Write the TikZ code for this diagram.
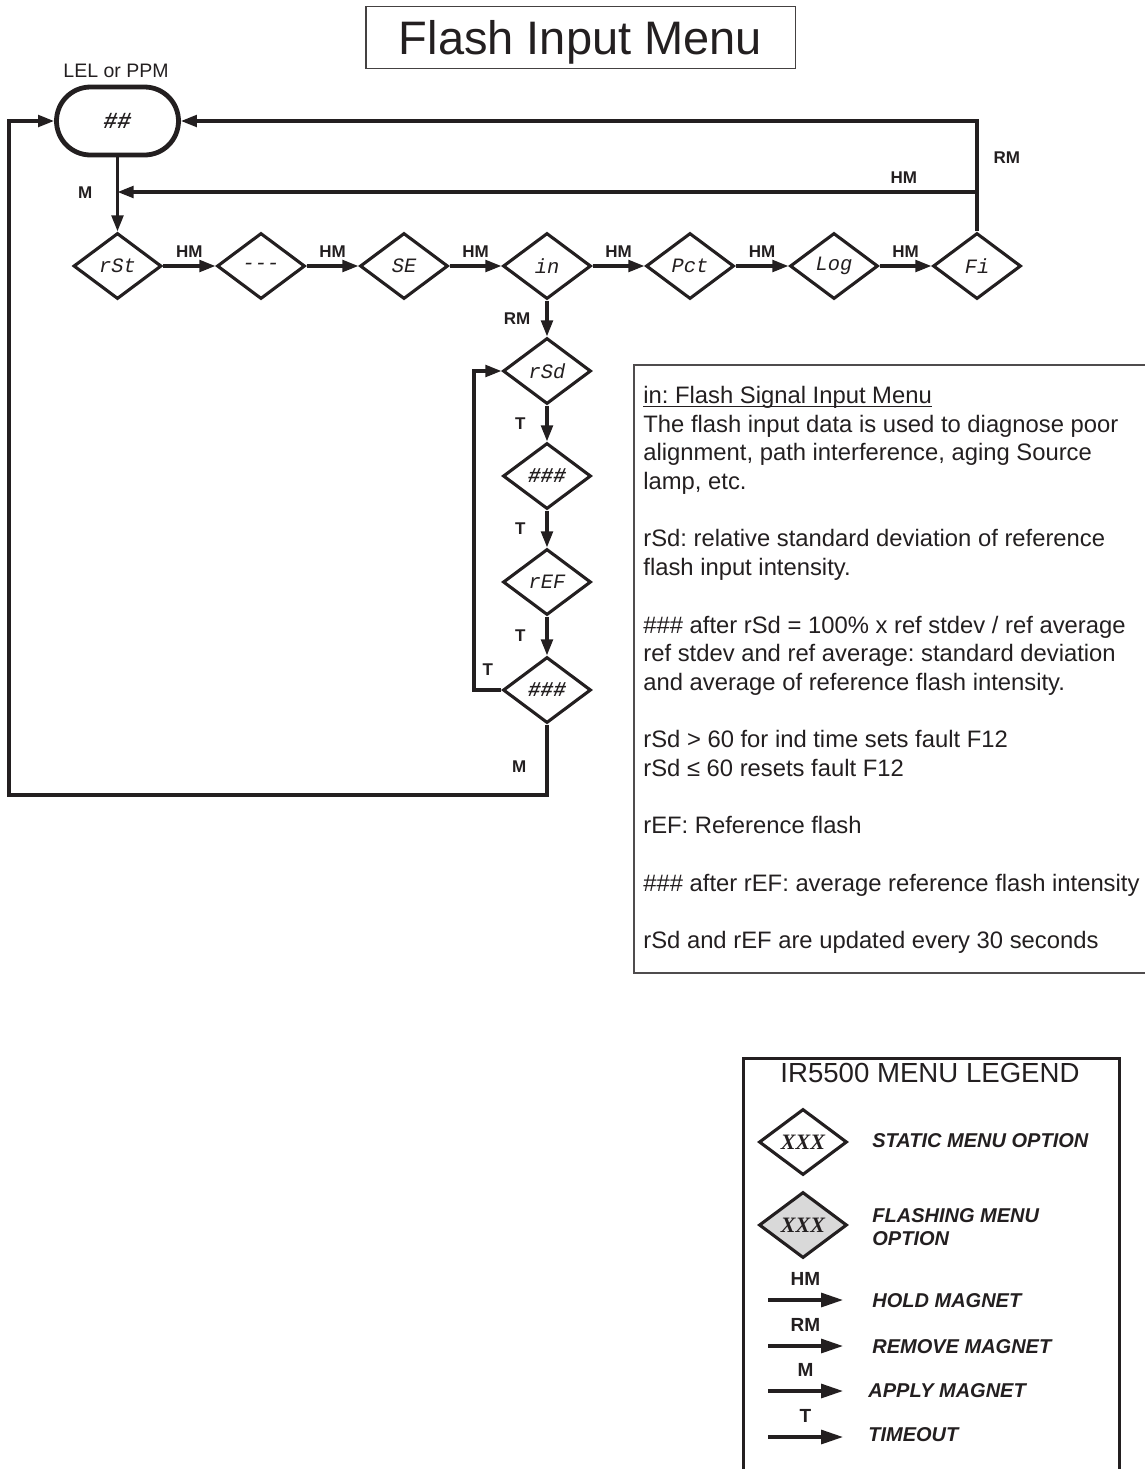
\documentclass[tikz,border=0pt]{standalone}
\usepackage{fontspec}
\setmainfont{Liberation Sans}
\newfontfamily\monofam{Liberation Mono}
\newfontfamily\seriffam{Liberation Serif}
\usetikzlibrary{shapes.geometric,arrows.meta}
\definecolor{ink}{HTML}{231F20}
\definecolor{flashgray}{HTML}{D9D9D9}
\begin{document}
\begin{tikzpicture}[x=0.5pt,y=-0.5pt,
  menu/.style={diamond, draw=ink, line width=1.55pt, minimum width=44pt, minimum height=33pt, inner sep=0pt, text=ink, font=\monofam\itshape\fontsize{10.2}{12}\selectfont},
  menubold/.style={menu, font=\monofam\bfseries\itshape\fontsize{10.5}{12}\selectfont},
  conn/.style={draw=ink, line width=1.6pt, -{Triangle[length=8pt,width=5.8pt]}},
  lbl/.style={font=\bfseries\fontsize{8.5}{10}\selectfont, text=ink, inner sep=1pt},
  lgconn/.style={draw=ink, line width=1.6pt, -{Triangle[length=11pt,width=7pt]}},
  lglbl/.style={font=\bfseries\fontsize{9.5}{11}\selectfont, text=ink, inner sep=1pt},
  lgtext/.style={font=\bfseries\itshape\fontsize{10}{11.5}\selectfont, text=ink, inner sep=0pt},
  xxx/.style={menu, font=\seriffam\bfseries\itshape\fontsize{11}{12}\selectfont},
]
\useasboundingbox (0,0) rectangle (1145,1469);

% title
\node[draw=ink!85, line width=0.75pt, minimum width=214.75pt, minimum height=31pt, inner sep=0pt,
      text height=16.8pt, text depth=0pt, font=\fontsize{23.5}{26}\selectfont, text=ink] (title) at (580.5,37.5) {Flash Input Menu};

% start
\node[font=\fontsize{9.75}{11}\selectfont, text=ink, anchor=base, inner sep=0pt] (unit) at (116,77) {LEL or PPM};
\node[draw=ink, line width=2.4pt, rounded corners=17pt, minimum width=61pt, minimum height=34pt, inner sep=0pt,
      text=ink, font=\monofam\bfseries\itshape\fontsize{11.5}{12}\selectfont] (start) at (117.5,121) {\#\#};

% row
\node[menu] (rSt) at (117.5,266) {rSt};
\node[menu] (dash) at (261,266) {-{}-{}-};
\node[menu] (SE) at (404,266) {SE};
\node[menu] (inM) at (547,266) {in};
\node[menu] (Pct) at (690,266) {Pct};
\node[menu] (Log) at (834,266) {Log};
\node[menu] (Fi) at (977,266) {Fi};

% column
\node[menu] (rSd) at (547,371) {rSd};
\node[menubold] (h1) at (547,476) {\#\#\#};
\node[menu] (rEF) at (547,582) {rEF};
\node[menubold] (h2) at (547,690) {\#\#\#};

% connectors
\draw[conn] (start) -- node[lbl, left=10.75pt, pos=0.47]{M} (rSt);
\draw[conn] (rSt) -- node[lbl, above=2.5pt]{HM} (dash);
\draw[conn] (dash) -- node[lbl, above=2.5pt]{HM} (SE);
\draw[conn] (SE) -- node[lbl, above=2.5pt]{HM} (inM);
\draw[conn] (inM) -- node[lbl, above=2.5pt]{HM} (Pct);
\draw[conn] (Pct) -- node[lbl, above=2.5pt]{HM} (Log);
\draw[conn] (Log) -- node[lbl, above=2.5pt]{HM} (Fi);

\coordinate (fiTop) at (977,121);
\draw[conn] (Fi.north) -- node[lbl, right=6.5pt, pos=0.67]{RM} (fiTop) -- (start.east);
\coordinate (fiHM) at (977,192);
\draw[conn] (fiHM) -- node[lbl, above=2.5pt, pos=0.085]{HM} (fiHM -| start.south);

\draw[conn] (inM) -- node[lbl, left=6.5pt]{RM} (rSd);
\draw[conn] (rSd) -- node[lbl, left=9pt]{T} (h1);
\draw[conn] (h1) -- node[lbl, left=9pt]{T} (rEF);
\draw[conn] (rEF) -- node[lbl, left=9pt]{T} (h2);

\coordinate (loopL) at (474,690);
\draw[conn] (h2.west) -- node[lbl, above=5.5pt]{T} (loopL) |- (rSd.west);

\coordinate (botR) at (547,795);
\coordinate (botL) at (9,795);
\draw[conn] (h2) -- node[lbl, left=8.5pt, pos=0.6]{M} (botR) -- (botL) |- (start.west);

% notes box
\draw[draw=ink!80, line width=0.75pt] (1148,365) -| (634,973) -- (1148,973);
\node[anchor=north west, inner sep=0pt, align=left, font=\fontsize{11.9}{14.35}\selectfont\frenchspacing, text=ink] (notes) at (643,403) {%
\underline{\smash{in: Flash Signal Input Menu}}\\
The flash input data is used to diagnose poor\\
alignment, path interference, aging Source\\
lamp, etc.\\[14.35pt]
rSd: relative standard deviation of reference\\
flash input intensity.\\[14.35pt]
\#\#\# after rSd = 100\% x ref stdev / ref average\\
ref stdev and ref average: standard deviation\\
and average of reference flash intensity.\\[14.35pt]
rSd > 60 for ind time sets fault F12\\
rSd ≤ 60 resets fault F12\\[14.35pt]
rEF: Reference flash\\[14.35pt]
\#\#\# after rEF: average reference flash intensity\\[14.35pt]
rSd and rEF are updated every 30 seconds};

% legend
\draw[draw=ink, line width=1.5pt] (743,1476) |- (1119,1058) -- (1119,1476);
\node[font=\fontsize{13.8}{16}\selectfont, text=ink, anchor=base, inner sep=0pt] (lgTitle) at (930,1082) {IR5500 MENU LEGEND};
\node[xxx] (lgS) at (803,1142) {XXX};
\node[xxx, fill=flashgray] (lgF) at (803,1225) {XXX};
\node[lgtext, anchor=base west] (lgSt) at (872,1147) {STATIC MENU OPTION};
\node[lgtext, anchor=north west, align=left, font=\bfseries\itshape\fontsize{10}{11.5}\selectfont] (lgFt) at (872,1207.7) {FLASHING MENU\\OPTION};

\coordinate (hmA) at (768,1300); \coordinate (hmB) at (843,1300);
\draw[lgconn] (hmA) -- node[lglbl, above=5.25pt]{HM} (hmB);
\node[lgtext, anchor=base west] (lgHM) at (872,1307) {HOLD MAGNET};

\coordinate (rmA) at (768,1346); \coordinate (rmB) at (843,1346);
\draw[lgconn] (rmA) -- node[lglbl, above=5.25pt]{RM} (rmB);
\node[lgtext, anchor=base west] (lgRM) at (872,1353) {REMOVE MAGNET};

\coordinate (mA) at (768,1391); \coordinate (mB) at (843,1391);
\draw[lgconn] (mA) -- node[lglbl, above=5.25pt]{M} (mB);
\node[lgtext, anchor=base west] (lgM) at (868,1397) {APPLY MAGNET};

\coordinate (tA) at (768,1437); \coordinate (tB) at (843,1437);
\draw[lgconn] (tA) -- node[lglbl, above=5.25pt]{T} (tB);
\node[lgtext, anchor=base west] (lgT) at (868,1441) {TIMEOUT};
\end{tikzpicture}
\end{document}
